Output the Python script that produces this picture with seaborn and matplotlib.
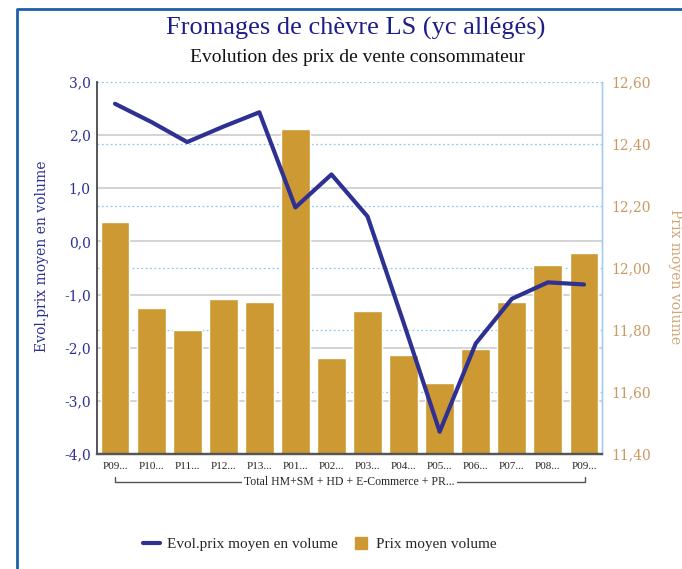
import matplotlib
matplotlib.use("Agg")
import matplotlib.pyplot as plt
import seaborn as sns
from matplotlib.lines import Line2D
from matplotlib.ticker import FuncFormatter

# Data
periods = ["P09...", "P10...", "P11...", "P12...", "P13...", "P01...", "P02...",
           "P03...", "P04...", "P05...", "P06...", "P07...", "P08...", "P09..."]
evol_prix = [2.59, 2.25, 1.87, 2.16, 2.43, 0.64, 1.26,
             0.47, -1.53, -3.58, -1.92, -1.08, -0.77, -0.81]
prix_moyen = [12.15, 11.87, 11.80, 11.90, 11.89, 12.45, 11.71,
              11.86, 11.72, 11.63, 11.74, 11.89, 12.01, 12.05]
group_label = "Total HM+SM + HD + E-Commerce + PR..."
left_ticks = [-4, -3, -2, -1, 0, 1, 2, 3]
right_ticks = [11.40, 11.60, 11.80, 12.00, 12.20, 12.40, 12.60]

navy = "#2E3192"
gold = "#CC9933"
tan = "#C99A63"

sns.set_style("white")
plt.rcParams["font.family"] = ["DejaVu Serif"]

fig = plt.figure(figsize=(6.82, 5.69), dpi=100)
ax = fig.add_axes([97 / 682, 1 - 454 / 569, 505 / 682, 372 / 569])
ax2 = ax.twinx()

idx = list(range(len(periods)))

# bars on the primary axes (right scale), line on the twin (left scale) so it sits on top
sns.barplot(x=idx, y=prix_moyen, color=gold, saturation=1, width=0.8, ax=ax, zorder=2)
sns.lineplot(x=idx, y=evol_prix, color=navy, linewidth=3, ax=ax2, zorder=3)

ax.set_ylim(11.40, 12.60)
ax2.set_ylim(-4, 3)
ax.set_xlim(-0.5, len(periods) - 0.5)

# right scale on the right side, left scale on the left side
ax.yaxis.tick_right()
ax.yaxis.set_label_position("right")
ax2.yaxis.tick_left()
ax2.yaxis.set_label_position("left")

ax.set_yticks(right_ticks)
ax2.set_yticks(left_ticks)
ax.yaxis.set_major_formatter(FuncFormatter(lambda v, p: f"{v:.2f}".replace(".", ",")))
ax2.yaxis.set_major_formatter(FuncFormatter(lambda v, p: f"{v:.1f}".replace(".", ",")))
ax.tick_params(axis="y", length=0, labelsize=10, labelcolor=tan, pad=6.5)
ax2.tick_params(axis="y", length=0, labelsize=10, labelcolor=navy, pad=4.5)

ax.set_xticks(idx)
ax.set_xticklabels(periods, fontsize=8, family="Liberation Serif")
ax.tick_params(axis="x", length=0, pad=6)
ax2.tick_params(axis="x", length=0)

# dotted blue grid for the right scale, solid grey grid for the left scale (both under bars)
for v in right_ticks:
    ax.axhline(v, color="#8EC8F5", linestyle=(0, (1.5, 2)), linewidth=0.9, zorder=0.5)
for v in left_ticks[1:-1]:
    ax.plot([0, 1], [v, v], transform=ax2.get_yaxis_transform(),
            color="#CCCCCC", linewidth=1.2, zorder=0.6)

ax.set_ylabel("")
ax2.set_ylabel("")
ax.grid(False)
ax2.grid(False)

for a in (ax, ax2):
    a.spines["top"].set_visible(False)
    a.spines["left"].set_color("#555555")
    a.spines["left"].set_linewidth(1.2)
    a.spines["bottom"].set_color("#555555")
    a.spines["bottom"].set_linewidth(1.6)
    a.spines["right"].set_color("#A8CCF0")
    a.spines["right"].set_linewidth(1.0)

# group bracket under the tick labels
bx0, bx1, by = (115 - 97) / 505, (585 - 97) / 505, -0.075
ax.plot([bx0, bx0, bx1, bx1], [by + 0.013, by, by, by + 0.013], transform=ax.transAxes,
        color="#555555", linewidth=1.0, clip_on=False)
ax.text(0.5, by, group_label, transform=ax.transAxes, ha="center", va="center",
        fontsize=8.5, family="Liberation Serif",
        bbox=dict(facecolor="white", edgecolor="none", pad=1.5))

# titles and axis labels
fig.text(356 / 682, 1 - 28 / 569, "Fromages de chèvre LS (yc allégés)", ha="center", va="center",
         fontsize=19, color="#1E1E88", family="Liberation Serif")
fig.text(357 / 682, 1 - 57 / 569, "Evolution des prix de vente consommateur", ha="center",
         va="center", fontsize=14, color="#111111", family="Liberation Serif")
fig.text(42 / 682, 1 - 256 / 569, "Evol.prix moyen en volume", rotation=90, ha="center",
         va="center", fontsize=10, color=navy)
fig.text(675 / 682, 1 - 277 / 569, "Prix moyen volume", rotation=270, ha="center",
         va="center", fontsize=10, color="#D2A77A")

# legend
handles = [Line2D([0], [0], color=navy, linewidth=3),
           Line2D([0], [0], marker="s", color="none", markerfacecolor=gold,
                  markeredgecolor=gold, markersize=9)]
fig.legend(handles, ["Evol.prix moyen en volume", "Prix moyen volume"], loc="center",
           bbox_to_anchor=(320 / 682, 1 - 544 / 569), ncol=2, frameon=False,
           prop={"family": "Liberation Serif", "size": 11}, handlelength=1.1,
           handletextpad=0.45, columnspacing=1.0)

# blue frame around the chart
fig.add_artist(Line2D([17 / 682, 17 / 682, 1.01], [-0.01, 1 - 9 / 569, 1 - 9 / 569],
                      transform=fig.transFigure, color="#1F5FA8", linewidth=2))

fig.savefig("out.png", dpi=100)
